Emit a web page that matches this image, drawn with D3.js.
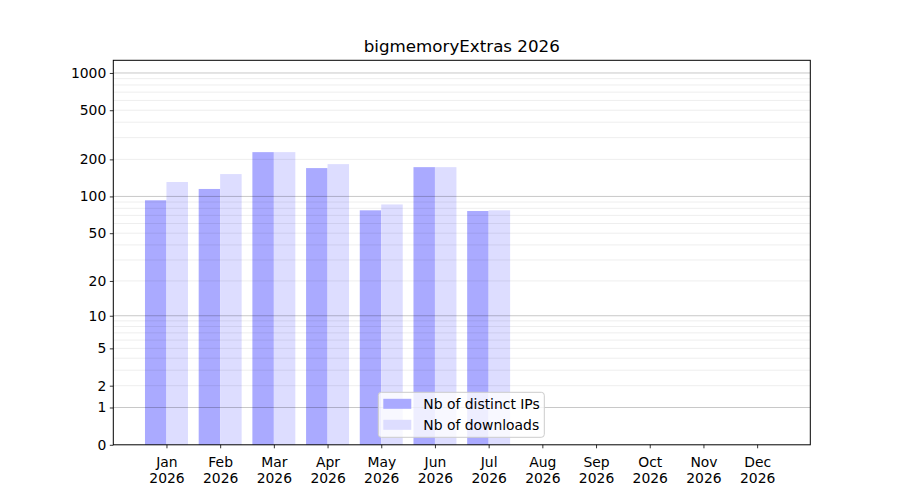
<!DOCTYPE html>
<html>
<head>
<meta charset="utf-8">
<script src="https://cdn.jsdelivr.net/npm/d3@7"></script>
<style>
  body { margin: 0; background: #fff; }
  svg { font-family: "DejaVu Sans", sans-serif; }
</style>
</head>
<body>
<div id="chart"></div>
<script>
// data
var months = ["Jan", "Feb", "Mar", "Apr", "May", "Jun", "Jul", "Aug", "Sep", "Oct", "Nov", "Dec"];
var year = "2026";
var distinctIPs = [93, 115, 229, 170, 77, 173, 76, 0, 0, 0, 0, 0];
var downloads = [131, 152, 229, 183, 86, 173, 77, 0, 0, 0, 0, 0];
var majorTicks = [0, 1, 2, 5, 10, 20, 50, 100, 200, 500, 1000];
var gridMajor = [1, 10, 100, 1000];
var title = "bigmemoryExtras 2026";

var W = 900, H = 500;
var margin = {top: 60.3, right: 89.7, bottom: 55.2, left: 113.3},
    width = W - margin.left - margin.right,
    height = H - margin.top - margin.bottom;

var svg = d3.select("#chart")
  .append("svg")
    .attr("width", W)
    .attr("height", H)
  .append("g")
    .attr("transform", "translate(" + margin.left + "," + margin.top + ")");

var x = d3.scaleLinear()
  .domain([-0.99, 11.99])
  .range([0, width]);

var y = d3.scaleSymlog()
  .constant(1)
  .domain([0, 1266])
  .range([height, 0]);

// minor grid values 2..9 x 10^k
var gridMinor = [];
[1, 10, 100].forEach(function(p) {
  for (var k = 2; k <= 9; k++) gridMinor.push(k * p);
});

var barW = x(0.4) - x(0);

// bars
svg.selectAll(".ip")
  .data(distinctIPs)
  .enter().append("rect")
    .attr("x", function(d, i) { return x(i - 0.4); })
    .attr("y", function(d) { return y(d); })
    .attr("width", barW)
    .attr("height", function(d) { return height - y(d); })
    .attr("fill", "#aaaaff");

svg.selectAll(".dl")
  .data(downloads)
  .enter().append("rect")
    .attr("x", function(d, i) { return x(i); })
    .attr("y", function(d) { return y(d); })
    .attr("width", barW)
    .attr("height", function(d) { return height - y(d); })
    .attr("fill", "#ddddff");

// grid on top of bars
svg.selectAll(".gminor")
  .data(gridMinor)
  .enter().append("line")
    .attr("x1", 0).attr("x2", width)
    .attr("y1", function(d) { return y(d); })
    .attr("y2", function(d) { return y(d); })
    .attr("stroke", "#000")
    .attr("stroke-opacity", 0.07)
    .attr("stroke-width", 1);

svg.selectAll(".gmajor")
  .data(gridMajor)
  .enter().append("line")
    .attr("x1", 0).attr("x2", width)
    .attr("y1", function(d) { return y(d); })
    .attr("y2", function(d) { return y(d); })
    .attr("stroke", "#000")
    .attr("stroke-opacity", 0.22)
    .attr("stroke-width", 1);

// Y axis
var yAxis = svg.append("g")
  .call(d3.axisLeft(y).tickValues(majorTicks).tickFormat(d3.format("d")).tickSize(3.5).tickPadding(3.5));

// X axis
var xAxis = svg.append("g")
  .attr("transform", "translate(0," + height + ")")
  .call(d3.axisBottom(x).tickValues(d3.range(12)).tickFormat("").tickSize(3.5));

xAxis.selectAll(".tick").append("text")
  .attr("fill", "#000")
  .attr("text-anchor", "middle")
  .attr("y", 22)
  .text(function(d) { return months[d]; });

xAxis.selectAll(".tick").append("text")
  .attr("fill", "#000")
  .attr("text-anchor", "middle")
  .attr("y", 38)
  .text(year);

[yAxis, xAxis].forEach(function(a) {
  a.select(".domain").remove();
  a.selectAll("text").attr("font-size", "13.9px").attr("font-family", "DejaVu Sans");
  a.selectAll("line").attr("stroke", "#000").attr("stroke-width", 0.8);
});

// frame
svg.append("rect")
  .attr("width", width)
  .attr("height", height)
  .attr("fill", "none")
  .attr("stroke", "#000")
  .attr("stroke-width", 1);

// title
svg.append("text")
  .attr("text-anchor", "middle")
  .attr("font-size", "16.7px")
  .attr("x", width / 2)
  .attr("y", -8)
  .text(title);

// legend
var legend = svg.append("g")
  .attr("transform", "translate(" + (378.3 - margin.left) + "," + (392.3 - margin.top) + ")");

legend.append("rect")
  .attr("width", 166)
  .attr("height", 45)
  .attr("rx", 3)
  .attr("fill", "#fff")
  .attr("fill-opacity", 0.8)
  .attr("stroke", "#cccccc")
  .attr("stroke-width", 1);

var items = [["Nb of distinct IPs", "#aaaaff"], ["Nb of downloads", "#ddddff"]];
items.forEach(function(it, i) {
  legend.append("rect")
    .attr("x", 5)
    .attr("y", 6.5 + i * 21)
    .attr("width", 28)
    .attr("height", 10)
    .attr("fill", it[1]);
  legend.append("text")
    .attr("x", 45)
    .attr("y", 16.5 + i * 21)
    .attr("font-size", "13.9px")
    .text(it[0]);
});
</script>
</body>
</html>
